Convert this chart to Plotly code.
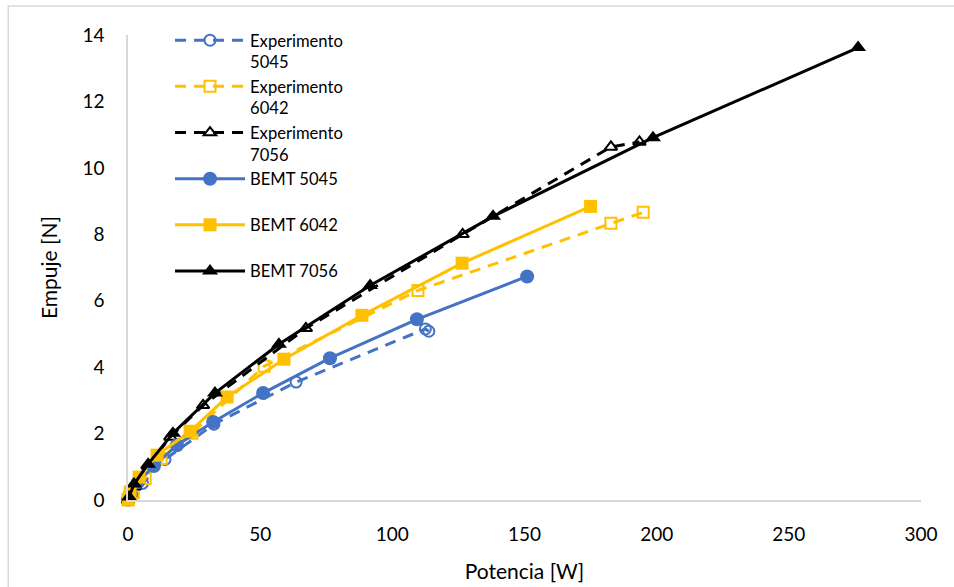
import plotly.graph_objects as go

# Data
exp5045_x = [0, 1.5, 5.5, 14.0, 32.5, 63.6, 112.5, 113.8]
exp5045_y = [0, 0.15, 0.50, 1.22, 2.28, 3.55, 5.15, 5.08]

exp6042_x = [0, 2.0, 6.5, 12.5, 24.2, 51.5, 109.7, 182.7, 194.9]
exp6042_y = [0, 0.22, 0.65, 1.25, 2.01, 4.03, 6.31, 8.33, 8.66]

exp7056_x = [0, 2.5, 7.5, 16.0, 28.4, 67.3, 126.6, 182.7, 193.5]
exp7056_y = [0, 0.40, 1.02, 1.90, 2.85, 5.17, 8.00, 10.63, 10.78]

bemt5045_x = [0.1, 0.8, 3.8, 9.8, 18.5, 32.2, 51.1, 76.4, 109.3, 151.0]
bemt5045_y = [0.02, 0.18, 0.54, 1.02, 1.65, 2.35, 3.22, 4.27, 5.44, 6.73]

bemt6042_x = [0.1, 0.8, 4.2, 11.0, 23.5, 37.5, 59.0, 88.5, 126.4, 175.0]
bemt6042_y = [0.02, 0.24, 0.69, 1.35, 2.07, 3.10, 4.24, 5.56, 7.13, 8.84]

bemt7056_x = [0.4, 2.3, 7.6, 17.0, 32.9, 57.1, 91.6, 138.1, 198.6, 276.2]
bemt7056_y = [0.09, 0.48, 1.08, 2.01, 3.22, 4.69, 6.46, 8.54, 10.91, 13.62]

x_ticks = [0, 50, 100, 150, 200, 250, 300]
y_ticks = [0, 2, 4, 6, 8, 10, 12, 14]

BLUE = "#4472C4"
YELLOW = "#FFC000"
BLACK = "#000000"
FONT = "Lato"
DASH = "11px,8px"

fig = go.Figure()

def exp_trace(x, y, name, color, symbol):
    return go.Scatter(
        x=x, y=y, name=name, mode="lines+markers", cliponaxis=False,
        line=dict(color=color, width=3, dash=DASH),
        marker=dict(symbol=symbol, size=11, color=color,
                    line=dict(color=color, width=2)),
    )

def bemt_trace(x, y, name, color, symbol, size):
    return go.Scatter(
        x=x, y=y, name=name, mode="lines+markers", cliponaxis=False,
        line=dict(color=color, width=3),
        marker=dict(symbol=symbol, size=size, color=color),
    )

NB = "<br>\u00a0"
fig.add_trace(exp_trace(exp5045_x, exp5045_y, "Experimento<br>5045", BLUE, "circle-open"))
fig.add_trace(exp_trace(exp6042_x, exp6042_y, "Experimento<br>6042", YELLOW, "square-open"))
fig.add_trace(exp_trace(exp7056_x, exp7056_y, "Experimento<br>7056", BLACK, "triangle-up-open"))
fig.add_trace(bemt_trace(bemt5045_x, bemt5045_y, "BEMT 5045" + NB, BLUE, "circle", 14))
fig.add_trace(bemt_trace(bemt6042_x, bemt6042_y, "BEMT 6042" + NB, YELLOW, "square", 13))
fig.add_trace(bemt_trace(bemt7056_x, bemt7056_y, "BEMT 7056" + NB, BLACK, "triangle-up", 14))

# outer chart border
fig.add_shape(type="rect", xref="paper", yref="paper",
              x0=-0.151, x1=1.06, y0=-0.3, y1=1.0624,
              line=dict(color="#D9D9D9", width=1.5), fillcolor="rgba(0,0,0,0)")

fig.update_layout(
    width=954, height=587,
    margin=dict(l=128, r=33, t=35, b=87, autoexpand=False),
    paper_bgcolor="white", plot_bgcolor="white",
    font=dict(family=FONT, size=19, color="black"),
    showlegend=True,
    legend=dict(x=0.053, y=1.026, xanchor="left", yanchor="top",
                bgcolor="rgba(0,0,0,0)", font=dict(family=FONT, size=16.6),
                valign="top", itemwidth=70, tracegroupgap=0, maxheight=500),
    xaxis=dict(range=[0, 300], tickvals=x_ticks, showgrid=False, zeroline=False,
               showline=True, linecolor="#D9D9D9", linewidth=1.5, ticks="",
               ticklabelstandoff=16, automargin=False,
               title=dict(text="Potencia [W]", font=dict(size=21), standoff=21)),
    yaxis=dict(range=[0, 14], tickvals=y_ticks, showgrid=False, zeroline=False,
               showline=True, linecolor="#D9D9D9", linewidth=1.5, ticks="",
               ticklabelstandoff=18, automargin=False,
               title=dict(text="Empuje [N]", font=dict(size=21), standoff=19)),
)

fig.write_html("out.html")
